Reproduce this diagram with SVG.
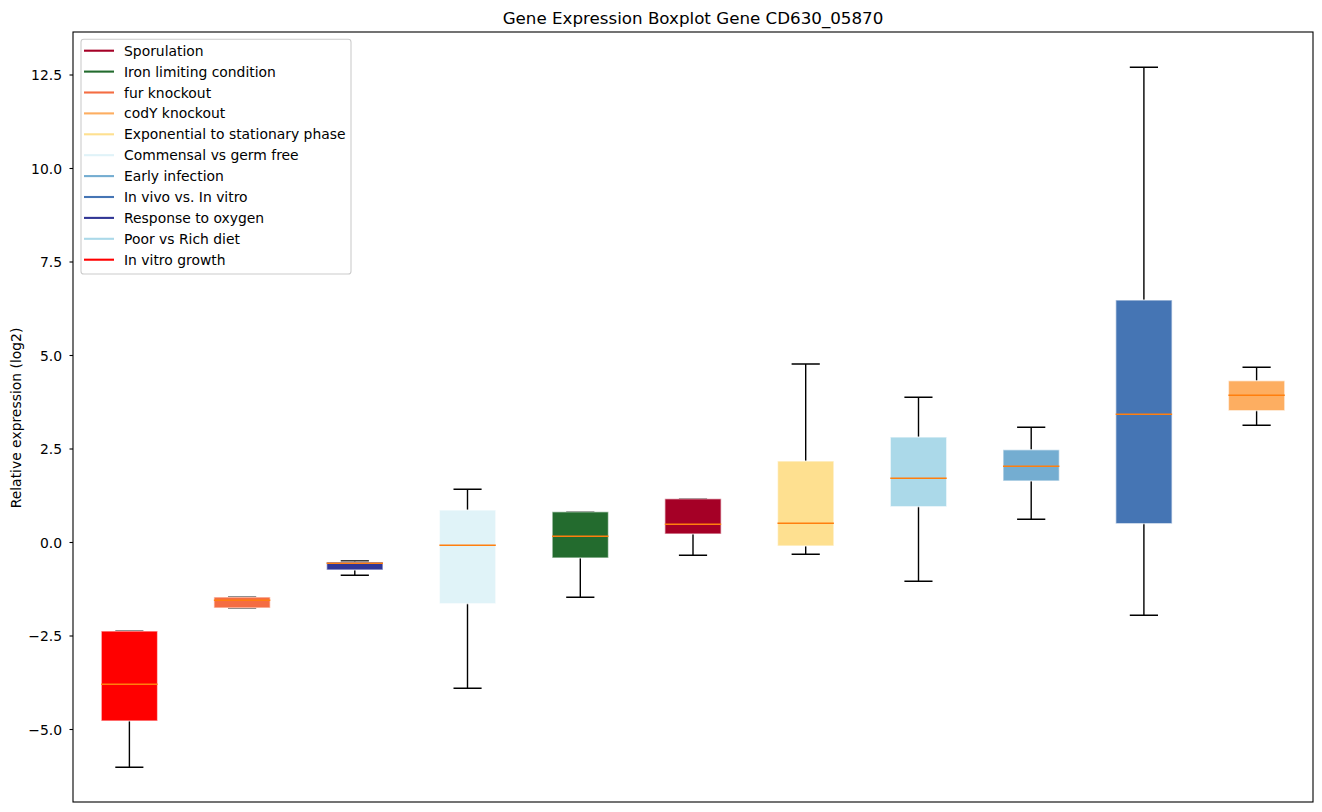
<svg xmlns="http://www.w3.org/2000/svg" width="1322" height="812" viewBox="0 0 1322 812">
<style>
text{font-family:"DejaVu Sans","Liberation Sans",sans-serif;fill:#000}
.tick{font-size:13.9px;text-anchor:end}
.leg{font-size:13.9px}
.wh{stroke:#000;stroke-width:1.4;fill:none}
.box{stroke:#fff;stroke-opacity:0.6;stroke-width:1.4}
.med{stroke:#ff7f0e;stroke-width:1.4}
.ll{stroke-width:2.1}
</style>
<rect x="0" y="0" width="1322" height="812" fill="#fff"/>
<text x="693" y="24" font-size="16.7" text-anchor="middle">Gene Expression Boxplot Gene CD630_05870</text>
<text transform="translate(20.5,418) rotate(-90)" font-size="13.9" text-anchor="middle">Relative expression (log2)</text>
<g id="yaxis">
<g stroke="#000" stroke-width="1.1">
<line x1="69.5" y1="75" x2="73" y2="75"/>
<line x1="69.5" y1="168.5" x2="73" y2="168.5"/>
<line x1="69.5" y1="262" x2="73" y2="262"/>
<line x1="69.5" y1="355.5" x2="73" y2="355.5"/>
<line x1="69.5" y1="449" x2="73" y2="449"/>
<line x1="69.5" y1="542.5" x2="73" y2="542.5"/>
<line x1="69.5" y1="636" x2="73" y2="636"/>
<line x1="69.5" y1="729.5" x2="73" y2="729.5"/>
</g>
<text class="tick" x="62" y="80">12.5</text>
<text class="tick" x="62" y="173.5">10.0</text>
<text class="tick" x="62" y="267">7.5</text>
<text class="tick" x="62" y="360.5">5.0</text>
<text class="tick" x="62" y="454">2.5</text>
<text class="tick" x="62" y="547.5">0.0</text>
<text class="tick" x="62" y="641">−2.5</text>
<text class="tick" x="62" y="734.5">−5.0</text>
</g>
<g id="connectors">
<path class="wh" d="M129.4 631V767.3M115.3 767.3H143.4M115.3 631H143.4"/>
<path class="wh" d="M242.1 597V608M228 608H256.2M228 597H256.2"/>
<path class="wh" d="M354.8 561V575.3M340.7 575.3H368.9M340.7 561H368.9"/>
<path class="wh" d="M467.5 489.3V688.3M453.5 688.3H481.6M453.5 489.3H481.6"/>
<path class="wh" d="M580.3 511.7V597.3M566.2 597.3H594.4M566.2 511.7H594.4"/>
<path class="wh" d="M693 498.7V555.3M678.9 555.3H707.1M678.9 498.7H707.1"/>
<path class="wh" d="M805.7 364V554.3M791.6 554.3H819.8M791.6 364H819.8"/>
<path class="wh" d="M918.5 397.3V581.3M904.4 581.3H932.5M904.4 397.3H932.5"/>
<path class="wh" d="M1031.2 427.3V519.3M1017.1 519.3H1045.3M1017.1 427.3H1045.3"/>
<path class="wh" d="M1143.9 67.3V615.3M1129.8 615.3H1158M1129.8 67.3H1158"/>
<path class="wh" d="M1256.6 367.3V425.3M1242.5 425.3H1270.7M1242.5 367.3H1270.7"/>
</g>
<g id="box1"><rect class="box" x="101.2" y="631" width="56.4" height="90" fill="#ff0000"/><line class="med" x1="101.2" y1="684.3" x2="157.6" y2="684.3"/></g>
<g id="box2"><rect class="box" x="213.9" y="597" width="56.4" height="11" fill="#f46d43"/><line class="med" x1="213.9" y1="600.3" x2="270.3" y2="600.3"/></g>
<g id="box3"><rect class="box" x="326.6" y="562" width="56.4" height="8" fill="#313695"/><line class="med" x1="326.6" y1="563.3" x2="383" y2="563.3"/></g>
<g id="box4"><rect class="box" x="439.4" y="510" width="56.4" height="93.7" fill="#e0f3f8"/><line class="med" x1="439.4" y1="545.3" x2="495.8" y2="545.3"/></g>
<g id="box5"><rect class="box" x="552.1" y="511.7" width="56.4" height="46.3" fill="#236b2e"/><line class="med" x1="552.1" y1="536.3" x2="608.5" y2="536.3"/></g>
<g id="box6"><rect class="box" x="664.8" y="498.7" width="56.4" height="35.3" fill="#a50026"/><line class="med" x1="664.8" y1="524.3" x2="721.2" y2="524.3"/></g>
<g id="box7"><rect class="box" x="777.5" y="461" width="56.4" height="85" fill="#fee090"/><line class="med" x1="777.5" y1="523.3" x2="833.9" y2="523.3"/></g>
<g id="box8"><rect class="box" x="890.3" y="437" width="56.4" height="69.7" fill="#abd9e9"/><line class="med" x1="890.3" y1="478.3" x2="946.7" y2="478.3"/></g>
<g id="box9"><rect class="box" x="1003" y="449.7" width="56.4" height="31.3" fill="#74add1"/><line class="med" x1="1003" y1="466.3" x2="1059.4" y2="466.3"/></g>
<g id="box10"><rect class="box" x="1115.7" y="300" width="56.4" height="223.7" fill="#4575b4"/><line class="med" x1="1115.7" y1="414.3" x2="1172.1" y2="414.3"/></g>
<g id="box11"><rect class="box" x="1228.4" y="380.7" width="56.4" height="30" fill="#fdae61"/><line class="med" x1="1228.4" y1="395.3" x2="1284.8" y2="395.3"/></g>
<rect x="73" y="32" width="1240" height="770" fill="none" stroke="#000" stroke-width="1.1"/>
<g id="legend">
<rect x="81" y="39.3" width="270" height="234.7" rx="2.8" fill="#fff" fill-opacity="0.8" stroke="#cccccc" stroke-width="1.1"/>
<line class="ll" x1="84" y1="50.7" x2="114" y2="50.7" stroke="#a50026"/>
<line class="ll" x1="84" y1="71.6" x2="114" y2="71.6" stroke="#236b2e"/>
<line class="ll" x1="84" y1="92.5" x2="114" y2="92.5" stroke="#f46d43"/>
<line class="ll" x1="84" y1="113.4" x2="114" y2="113.4" stroke="#fdae61"/>
<line class="ll" x1="84" y1="134.3" x2="114" y2="134.3" stroke="#fee090"/>
<line class="ll" x1="84" y1="155.2" x2="114" y2="155.2" stroke="#e0f3f8"/>
<line class="ll" x1="84" y1="176.1" x2="114" y2="176.1" stroke="#74add1"/>
<line class="ll" x1="84" y1="197" x2="114" y2="197" stroke="#4575b4"/>
<line class="ll" x1="84" y1="217.9" x2="114" y2="217.9" stroke="#313695"/>
<line class="ll" x1="84" y1="238.8" x2="114" y2="238.8" stroke="#abd9e9"/>
<line class="ll" x1="84" y1="259.7" x2="114" y2="259.7" stroke="#ff0000"/>
<text class="leg" x="124" y="55.7">Sporulation</text>
<text class="leg" x="124" y="76.6">Iron limiting condition</text>
<text class="leg" x="124" y="97.5">fur knockout</text>
<text class="leg" x="124" y="118.4">codY knockout</text>
<text class="leg" x="124" y="139.3">Exponential to stationary phase</text>
<text class="leg" x="124" y="160.2">Commensal vs germ free</text>
<text class="leg" x="124" y="181.1">Early infection</text>
<text class="leg" x="124" y="202">In vivo vs. In vitro</text>
<text class="leg" x="124" y="222.9">Response to oxygen</text>
<text class="leg" x="124" y="243.8">Poor vs Rich diet</text>
<text class="leg" x="124" y="264.7">In vitro growth</text>
</g>
</svg>
